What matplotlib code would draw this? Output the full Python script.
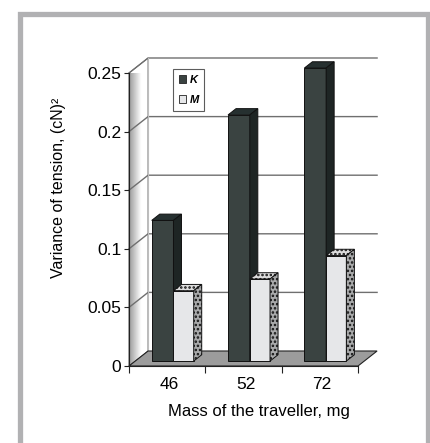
import numpy as np
import matplotlib
matplotlib.use("Agg")
from matplotlib import pyplot as plt
from matplotlib.patches import Polygon, Rectangle, Patch

plt.rcParams['font.family'] = ['Liberation Sans', 'DejaVu Sans']
plt.rcParams['hatch.linewidth'] = 1.2

# data
masses = ['46', '52', '72']
series_names = ['K', 'M']
k_values = [0.12, 0.21, 0.25]
m_values = [0.06, 0.07, 0.09]
y_ticks = [0, 0.05, 0.1, 0.15, 0.2, 0.25]
y_tick_labels = ['0', '0.05', '0.1', '0.15', '0.2', '0.25']

# fake 3d depth, in data units
DX = 0.25
DY = 0.0128
BAR_W = 0.285
D_FRONT = 0.33
D_BACK = 0.75


def off(x, y, d):
    return (x + d * DX, y + d * DY)


def box(ax, x0, w, v, front, top, side, hatch=None):
    # front face
    ax.add_patch(Polygon([off(x0, 0, D_FRONT), off(x0 + w, 0, D_FRONT),
                          off(x0 + w, v, D_FRONT), off(x0, v, D_FRONT)],
                         closed=True, fc=front, ec='#111111', lw=0.7,
                         clip_on=False, zorder=5))
    # top
    ax.add_patch(Polygon([off(x0, v, D_FRONT), off(x0 + w, v, D_FRONT),
                          off(x0 + w, v, D_BACK), off(x0, v, D_BACK)],
                         closed=True, fc=top, ec='#111111', lw=0.7,
                         hatch=hatch, clip_on=False, zorder=5))
    # right side
    ax.add_patch(Polygon([off(x0 + w, 0, D_FRONT), off(x0 + w, 0, D_BACK),
                          off(x0 + w, v, D_BACK), off(x0 + w, v, D_FRONT)],
                         closed=True, fc=side, ec='#111111', lw=0.7,
                         hatch=hatch, clip_on=False, zorder=5))


fig = plt.figure(figsize=(4.31, 4.43), dpi=100)
fig.patch.set_facecolor('white')

# grey frame round the figure
fig.add_artist(Rectangle((20.5 / 431, -0.05), 408 / 431, 1 - 13.5 / 443 + 0.05,
                         transform=fig.transFigure, fill=False,
                         ec='#b1b1b3', lw=3.8))

ax = fig.add_axes([129 / 431, 77 / 443, 229 / 431, 293 / 443])
ax.set_xlim(0, 3)
ax.set_ylim(0, 0.25)
ax.patch.set_alpha(0)

ymax = y_ticks[-1]

# side wall with gradient
wall = Polygon([off(0, 0, 0), off(0, 0, 1), off(0, ymax, 1), off(0, ymax, 0)],
               closed=True, fc='none', ec='#333333', lw=0.6, clip_on=False, zorder=1)
ax.add_patch(wall)
grad = np.clip(np.linspace(0.6, 1.25, 64), 0, 1).reshape(1, -1)
img = ax.imshow(grad, cmap='gray', vmin=0, vmax=1, aspect='auto',
                extent=(0, DX, 0, ymax + DY), zorder=0.5, clip_on=True)
img.set_clip_path(wall)

# floor
ax.add_patch(Polygon([off(0, 0, 0), off(3, 0, 0), off(3, 0, 1), off(0, 0, 1)],
                     closed=True, fc='#9c9c9c', ec='#222222', lw=0.8,
                     clip_on=False, zorder=2))

# grid lines on side and back walls
for v in y_ticks[1:]:
    pts = [off(0, v, 0), off(0, v, 1), off(3, v, 1)]
    ax.plot([p[0] for p in pts], [p[1] for p in pts], color='#6f6f6f',
            lw=1.0, clip_on=False, zorder=1.5)
ax.plot([off(0, 0, 1)[0], off(0, ymax, 1)[0]], [off(0, 0, 1)[1], off(0, ymax, 1)[1]],
        color='#bdbdbd', lw=0.8, clip_on=False, zorder=1.5)

# bars
for i in range(len(masses)):
    xk = i + 0.5 - BAR_W
    box(ax, xk, BAR_W, k_values[i], '#3a4341', '#263030', '#1e2524')
    box(ax, i + 0.5, BAR_W * 0.93, m_values[i], '#e6e7e9', '#dcdcdc', '#a9aaab',
        hatch='....')

# front axes
for s in ['top', 'right']:
    ax.spines[s].set_visible(False)
ax.spines['left'].set_color('#222222')
ax.spines['bottom'].set_color('#222222')
ax.spines['left'].set_zorder(6)
ax.spines['bottom'].set_zorder(6)

ax.set_yticks(y_ticks)
ax.set_yticklabels(y_tick_labels, fontsize=12.5)
ax.set_xticks([0, 1, 2, 3])
ax.set_xticklabels([])
ax.set_xticks([0.53, 1.53, 2.53], minor=True)
ax.set_xticklabels(masses, minor=True, fontsize=12.5)
ax.tick_params(axis='x', which='minor', length=0, pad=8)
ax.tick_params(axis='x', which='major', length=5, color='#222222')
ax.tick_params(axis='y', length=3.5, color='#222222', pad=2)

ax.set_xlabel('Mass of the traveller, mg', fontsize=12)
ax.xaxis.set_label_coords(0.568, -0.154)
ax.xaxis.label.set_va('center')
ax.set_ylabel('Variance of tension, (cN)²', fontsize=11.5)
ax.yaxis.set_label_coords(-0.31, 0.607)
ax.yaxis.label.set_va('center')

handles = [Patch(fc='#3a4341', ec='#222222', lw=0.6),
           Patch(fc='#e6e7e9', ec='#222222', lw=0.6)]
leg = fig.legend(handles, series_names, loc='upper left',
                 bbox_to_anchor=(173 / 431, 1 - 69 / 443),
                 prop={'size': 8, 'weight': 'bold', 'style': 'italic'},
                 frameon=True, fancybox=False, edgecolor='#333333',
                 handlelength=0.7, handleheight=0.7, handletextpad=0.3,
                 borderpad=0.5, labelspacing=0.95, borderaxespad=0)
leg.get_frame().set_linewidth(0.8)

fig.savefig('out.png', dpi=100)
